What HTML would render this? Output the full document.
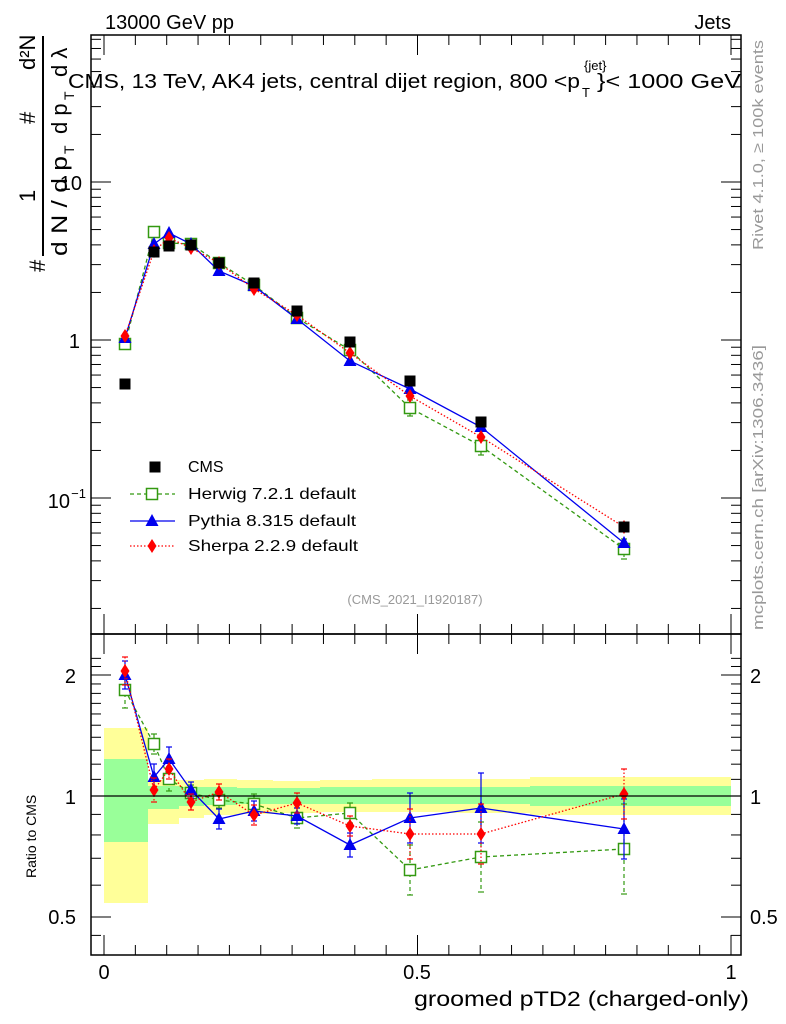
<!DOCTYPE html>
<html><head><meta charset="utf-8"><style>
html,body{margin:0;padding:0;background:#fff;}
svg{display:block;font-family:"Liberation Sans",sans-serif;}
</style></head><body>
<svg id="s" width="786" height="1024" viewBox="0 0 786 1024" xmlns="http://www.w3.org/2000/svg">
<g id="bands"></g>
<g id="g"></g>
<rect x="91" y="35" width="650" height="599" fill="none" stroke="#000" stroke-width="1.5"/>
<rect x="91" y="634" width="650" height="321" fill="none" stroke="#000" stroke-width="1.5"/>
<line x1="91" y1="796" x2="741" y2="796" stroke="#000" stroke-width="1.2"/>
<text x="105" y="29" font-size="20">13000 GeV pp</text>
<text x="731" y="29" font-size="20" text-anchor="end">Jets</text>
<text x="68" y="88" font-size="20" textLength="512" lengthAdjust="spacingAndGlyphs">CMS, 13 TeV, AK4 jets, central dijet region, 800 &lt;p</text>
<text x="584" y="70" font-size="13">{jet}</text>
<text x="582" y="97" font-size="13">T</text>
<text x="597" y="88" font-size="20" textLength="144" lengthAdjust="spacingAndGlyphs">}&lt; 1000 GeV</text>
<text x="415" y="604" font-size="13" fill="#999" text-anchor="middle">(CMS_2021_I1920187)</text>
<text transform="translate(763,250) rotate(-90)" font-size="15" fill="#999" textLength="210" lengthAdjust="spacingAndGlyphs">Rivet 4.1.0, ≥ 100k events</text>
<text transform="translate(763,630) rotate(-90)" font-size="15" fill="#999" textLength="285" lengthAdjust="spacingAndGlyphs">mcplots.cern.ch [arXiv:1306.3436]</text>
<g transform="translate(47,272) rotate(-90)" font-size="22">
<text x="0" y="-2">#</text>
<text x="70" y="-12">1</text>
<line x1="16" y1="-4" x2="236" y2="-4" stroke="#000" stroke-width="2"/>
<text x="16" y="20" textLength="100" lengthAdjust="spacingAndGlyphs">d N / d p</text>
<text x="118" y="27" font-size="14">T</text>
<text x="138" y="20">d p</text>
<text x="172" y="27" font-size="14">T</text>
<text x="195" y="20">d λ</text>
<text x="148" y="-12">#</text>
<text x="202" y="-12">d²N</text>
</g>
<text transform="translate(36,878) rotate(-90)" font-size="14">Ratio to CMS</text>
<text x="749" y="1006" font-size="21" text-anchor="end" textLength="335" lengthAdjust="spacingAndGlyphs">groomed pTD2 (charged-only)</text>
<g font-size="20" text-anchor="middle">
<text x="104" y="979">0</text><text x="417" y="979">0.5</text><text x="731" y="979">1</text>
</g>
<g font-size="20" text-anchor="end">
<text x="82" y="190">10</text><text x="80" y="348">1</text>
<text x="70" y="508">10</text><text x="86" y="498" font-size="13">−1</text>
<text x="76" y="683">2</text><text x="76" y="804">1</text><text x="76" y="924">0.5</text>
</g>
<g font-size="20">
<text x="750" y="683">2</text><text x="750" y="804">1</text><text x="750" y="924">0.5</text>
</g>
<g font-size="16" id="leg">
<text x="188" y="472">CMS</text>
<text x="188" y="499" textLength="168" lengthAdjust="spacingAndGlyphs">Herwig 7.2.1 default</text>
<text x="188" y="526" textLength="168" lengthAdjust="spacingAndGlyphs">Pythia 8.315 default</text>
<text x="188" y="551" textLength="170" lengthAdjust="spacingAndGlyphs">Sherpa 2.2.9 default</text>
</g>
</svg>
<script>
const NS="http://www.w3.org/2000/svg",g=document.getElementById('g'),b=document.getElementById('bands');
function el(t,a,p){const e=document.createElementNS(NS,t);for(const k in a)e.setAttribute(k,a[k]);(p||g).appendChild(e);return e;}
function ln(x1,y1,x2,y2,c,w,d){el('line',{x1,y1,x2,y2,stroke:c||'#000','stroke-width':w||1,'stroke-dasharray':d||'none'});}
const edges=[104,148,179,204,237,273,320,372,450,530,731];
const yel=[[728,903],[780,824],[780,818],[779,815],[780,814],[781,813],[780,812],[779,812],[779,813],[777,815]];
const grn=[[759,842],[786,809],[787,806],[787,805],[788,804],[788,804],[787,804],[787,804],[787,804],[786,806]];
for(let i=0;i<10;i++){el('rect',{x:edges[i],y:yel[i][0],width:edges[i+1]-edges[i],height:yel[i][1]-yel[i][0],fill:'#ffff99'},b);
el('rect',{x:edges[i],y:grn[i][0],width:edges[i+1]-edges[i],height:grn[i][1]-grn[i][0],fill:'#99ff99'},b);}
function yMain(v){return 340-158*Math.log10(v);}
for(let d=-2;d<=1;d++)for(let m=1;m<10;m++){const y=yMain(m*Math.pow(10,d));if(y<35||y>634)continue;const L=m==1?20:10;ln(91,y,91+L,y);ln(741,y,741-L,y);}
function yR(r){return 796-121*Math.log2(r);}
[0.45,0.5,0.6,0.7,0.8,0.9,1,1.1,1.2,1.3,1.4,1.5,1.6,1.7,1.8,1.9,2,2.1,2.2].forEach(r=>{const y=yR(r);if(y<634||y>955)return;const L=(r==0.5||r==1||r==2)?20:10;ln(91,y,91+L,y);ln(741,y,741-L,y);});
for(let i=0;i<=20;i++){const x=104+627*i/20;const L=i%10==0?20:10;ln(x,35,x,35+L);ln(x,634,x,634-L);ln(x,634,x,634+L);ln(x,955,x,955-L);}
const X=[125,154,169,191,219,254,297,350,410,481,624];
const cms=[384,252,246,245,263,283,311,342,381,422,527];
const her=[344,232,243,244,263,285,318,350,408,446,549];
const pyt=[338,244,233,244,271,286,319,361,389,427,543];
const she=[336,251,238,248,263,289,315,353,396,437,527];
const rher=[690,744,779,793,800,804,818,813,870,857,849];
const rpyt=[675,777,759,790,819,811,816,845,818,808,829];
const rshe=[671,790,769,802,792,815,803,826,834,834,794];
function mk(type,x,y,c){
 if(type=='sq')el('rect',{x:x-5.5,y:y-5.5,width:11,height:11,fill:'#fff',stroke:c,'stroke-width':1.5});
 if(type=='tri')el('polygon',{points:`${x},${y-7} ${x-6.5},${y+5} ${x+6.5},${y+5}`,fill:c});
 if(type=='dia')el('polygon',{points:`${x},${y-7} ${x-4.5},${y} ${x},${y+7} ${x+4.5},${y}`,fill:c});
 if(type=='blk')el('rect',{x:x-5.5,y:y-5.5,width:11,height:11,fill:c});
}
function series(ys,c,dash,type,err){
 el('polyline',{points:X.map((x,i)=>x+','+ys[i]).join(' '),fill:'none',stroke:c,'stroke-width':1.3,'stroke-dasharray':dash});
 X.forEach((x,i)=>{const e=err[i];if(e>0){ln(x,ys[i]-e,x,ys[i]+e,c,1.2,dash);ln(x-3,ys[i]-e,x+3,ys[i]-e,c,1.2);ln(x-3,ys[i]+e,x+3,ys[i]+e,c,1.2);}mk(type,x,ys[i],c);});
}
const C={h:'#339911',p:'#0000ee',s:'#ff0000'};
series(her,C.h,'4,3','sq',[0,0,0,0,0,0,0,0,8,9,10]);
series(pyt,C.p,'none','tri',[0,0,0,0,0,0,0,0,0,0,0]);
series(she,C.s,'1.5,2','dia',[0,0,0,0,0,0,0,0,0,0,0]);
X.forEach((x,i)=>mk('blk',x,cms[i],'#000'));
series(rher,C.h,'4,3','sq',[18,10,12,8,8,10,10,10,25,35,45]);
series(rpyt,C.p,'none','tri',[14,13,12,8,10,10,8,12,25,35,30]);
series(rshe,C.s,'1.5,2','dia',[14,12,10,8,8,10,10,10,25,30,25]);
mk('blk',155,467,'#000');
ln(130,494,175,494,C.h,1.3,'4,3');mk('sq',152,494,C.h);
ln(130,521,175,521,C.p,1.3);mk('tri',152,521,C.p);
ln(130,546,175,546,C.s,1.3,'1.5,2');mk('dia',152,546,C.s);
</script>
</body></html>
